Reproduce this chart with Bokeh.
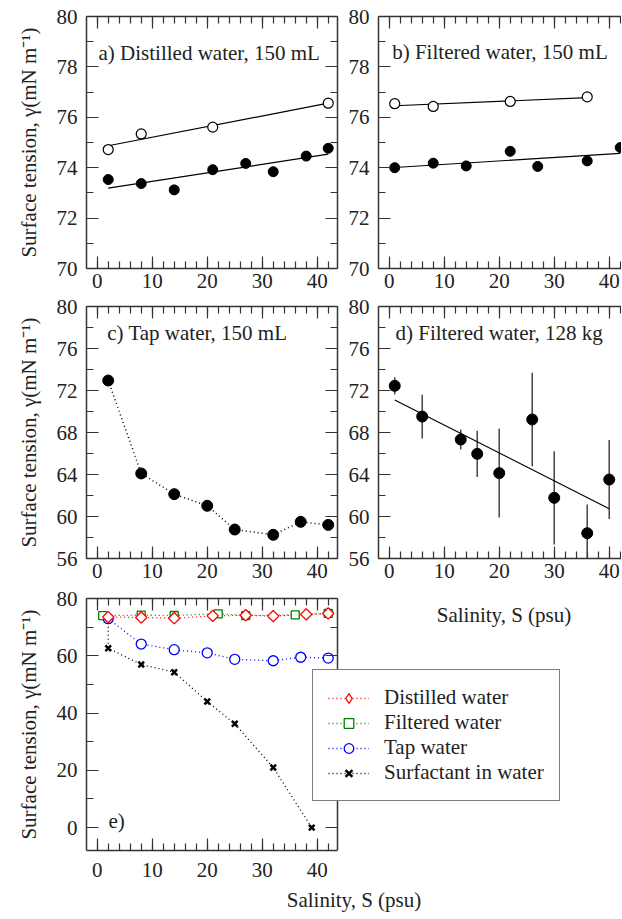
import numpy as np
from bokeh.plotting import figure
from bokeh.models import Range1d, LinearAxis, SingleIntervalTicker, Label, Legend, LegendItem
from bokeh.layouts import column, row
from bokeh.embed import file_html
from bokeh.resources import INLINE

# ---------------- data ----------------
a_fill_x = [2, 8, 14, 21, 27, 32, 38, 42]
a_fill_y = [73.53, 73.37, 73.12, 73.92, 74.17, 73.84, 74.46, 74.77]
a_open_x = [2, 8, 21, 42]
a_open_y = [74.72, 75.34, 75.61, 76.56]

b_fill_x = [1, 8, 14, 22, 27, 36, 42]
b_fill_y = [74.00, 74.18, 74.07, 74.65, 74.05, 74.27, 74.80]
b_open_x = [1, 8, 22, 36]
b_open_y = [76.54, 76.43, 76.63, 76.81]

c_x = [2, 8, 14, 20, 25, 32, 37, 42]
c_y = [72.95, 64.10, 62.13, 61.02, 58.76, 58.26, 59.49, 59.20]

d_x = [1, 6, 13, 16, 20, 26, 30, 36, 40]
d_y = [72.45, 69.52, 67.33, 65.97, 64.13, 69.24, 61.78, 58.41, 63.52]
d_err = [0.82, 2.08, 0.96, 2.20, 4.22, 4.45, 4.44, 2.73, 3.76]

surf_x = [2, 2, 8, 14, 20, 25, 32, 39]
surf_y = [72.95, 62.65, 56.95, 54.27, 44.03, 36.24, 20.98, 0.0]

series_names = ["Distilled water", "Filtered water", "Tap water", "Surfactant in water"]
ylabel_text = "Surface tension, γ(mN m⁻¹)"
xlabel_text = "Salinity, S (psu)"

FONT = "'Liberation Serif', 'Times New Roman', serif"
FS = "21px"
AX = "#333333"
TXT = "#222222"
XSCALE = 5.5  # px per psu
X0 = -1.95
XEND_AC = X0 + 251 / XSCALE


def style_axis(ax, labels=True, xdir=True):
    ax.axis_line_color = AX
    ax.axis_line_width = 1.5
    ax.major_tick_in = 12
    ax.major_tick_out = 0
    ax.minor_tick_in = 7
    ax.minor_tick_out = 0
    ax.major_tick_line_color = AX
    ax.minor_tick_line_color = AX
    ax.major_tick_line_width = 1.2
    ax.minor_tick_line_width = 1.2
    ax.major_label_text_font = FONT
    ax.major_label_text_font_size = FS
    ax.major_label_text_color = TXT
    ax.major_label_standoff = 5 if xdir else 9
    ax.axis_label_text_font = FONT
    ax.axis_label_text_font_size = FS
    ax.axis_label_text_font_style = "normal"
    ax.axis_label_text_color = TXT
    if not labels:
        ax.major_label_text_color = None
        ax.major_label_standoff = 0


def make_fig(yr, yint, fw, mbl, mbr, mbt, mbb, right_axis=True, ylabel=None, xlabel=None,
             bounded=False, xstandoff=5):
    p = figure(frame_width=fw, frame_height=252,
               x_range=Range1d(X0, X0 + fw / XSCALE), y_range=Range1d(*yr),
               output_backend="svg", toolbar_location=None,
               min_border_left=mbl, min_border_right=mbr,
               min_border_top=mbt, min_border_bottom=mbb)
    p.outline_line_color = None
    p.xgrid.visible = False
    p.ygrid.visible = False
    bottom = p.below[0]
    left = p.left[0]
    bottom.ticker = SingleIntervalTicker(interval=10, num_minor_ticks=5)
    left.ticker = SingleIntervalTicker(interval=yint, num_minor_ticks=2)
    style_axis(bottom, True, True)
    style_axis(left, True, False)
    bottom.major_label_standoff = xstandoff
    if ylabel:
        left.axis_label = ylabel
        left.axis_label_standoff = 13
    if xlabel:
        bottom.axis_label = xlabel
        bottom.axis_label_standoff = 8
    top = LinearAxis(ticker=SingleIntervalTicker(interval=10, num_minor_ticks=5))
    style_axis(top, False)
    if bounded:
        bottom.bounds = (X0, XEND_AC)
        top.bounds = (X0, XEND_AC)
    p.add_layout(top, "above")
    if right_axis:
        rt = LinearAxis(ticker=SingleIntervalTicker(interval=yint, num_minor_ticks=2))
        style_axis(rt, False)
        if bounded:
            rt.fixed_location = XEND_AC
        p.add_layout(rt, "right")
    return p


def panel_label(p, text, dx, dy, align="left"):
    # dx, dy: offsets (px) of the text's left edge / vertical centre from the frame's top-left
    xr, yr = p.x_range, p.y_range
    x = xr.start + dx * (xr.end - xr.start) / p.frame_width
    y = yr.end - dy * (yr.end - yr.start) / p.frame_height
    p.add_layout(Label(x=x, y=y, text=text, text_font=FONT, text_font_size=FS,
                       text_color=TXT, text_baseline="middle", text_align=align))


def fit_line(p, xs, ys):
    k, b = np.polyfit(xs, ys, 1)
    xx = np.array([min(xs), max(xs)])
    p.line(xx, k * xx + b, line_color="black", line_width=1.2)


# ---------------- panel a ----------------
pa = make_fig((70, 80), 2, 251, 86, 3, 16, 26, right_axis=True, ylabel=ylabel_text)
fit_line(pa, a_open_x, a_open_y)
fit_line(pa, a_fill_x, a_fill_y)
pa.scatter(a_open_x, a_open_y, size=10, marker="circle", fill_color="white", line_color="black", line_width=1.2)
pa.scatter(a_fill_x, a_fill_y, size=10, marker="circle", fill_color="black", line_color="black")
panel_label(pa, "a) Distilled water, 150 mL", 12, 36)

# ---------------- panel b ----------------
pb = make_fig((70, 80), 2, 243, 38, 0, 16, 26, right_axis=False)
fit_line(pb, b_open_x, b_open_y)
fit_line(pb, b_fill_x, b_fill_y)
pb.scatter(b_open_x, b_open_y, size=10, marker="circle", fill_color="white", line_color="black", line_width=1.2)
pb.scatter(b_fill_x, b_fill_y, size=10, marker="circle", fill_color="black", line_color="black")
panel_label(pb, "b) Filtered water, 150 mL", 13.7, 35)

# ---------------- panel c ----------------
pc = make_fig((56, 80), 4, 251, 86, 3, 12, 28, right_axis=True, ylabel=ylabel_text)
pc.line(c_x, c_y, line_color="black", line_width=1.5, line_dash="1 3")
pc.scatter(c_x, c_y, size=11, marker="circle", fill_color="black", line_color="black")
panel_label(pc, "c) Tap water, 150 mL", 20.7, 26.5)

# ---------------- panel d ----------------
pd_ = make_fig((56, 80), 4, 243, 38, 0, 12, 28, right_axis=False)
d_lo = [y - e for y, e in zip(d_y, d_err)]
d_hi = [y + e for y, e in zip(d_y, d_err)]
pd_.segment(d_x, d_lo, d_x, d_hi, line_color="#444444", line_width=1.5)
fit_line(pd_, d_x, d_y)
pd_.scatter(d_x, d_y, size=11, marker="circle", fill_color="black", line_color="black")
panel_label(pd_, "d) Filtered water, 128 kg", 17, 26.5)

# ---------------- panel e ----------------
pe = make_fig((-8, 80), 20, 535, 86, 0, 12, 68, right_axis=True, ylabel=ylabel_text,
              xlabel=xlabel_text, bounded=True, xstandoff=12)
l1 = pe.line(a_fill_x, a_fill_y, line_color="red", line_width=1.3, line_dash="1 3")
l2 = pe.line(b_fill_x, b_fill_y, line_color="green", line_width=1.3, line_dash="1 3")
l3 = pe.line(c_x, c_y, line_color="blue", line_width=1.3, line_dash="1 3")
l4 = pe.line(surf_x, surf_y, line_color="black", line_width=1.3, line_dash="1 3")
s4 = pe.scatter(surf_x[1:], surf_y[1:], size=8, marker="x", line_color="black", line_width=2.5)
s3 = pe.scatter(c_x, c_y, size=10, marker="circle", fill_color="white", line_color="blue", line_width=1.3)
s2 = pe.scatter(b_fill_x, b_fill_y, size=8, marker="square", fill_color="white", line_color="green", line_width=1.3)
s1 = pe.scatter(a_fill_x, a_fill_y, size=8, marker="square", angle=np.pi / 4, fill_color="white",
                line_color="red", line_width=1.3)
# legend-only diamond (legend glyphs ignore marker rotation); NaN point draws nothing in the plot
s1_leg = pe.scatter(x=[np.nan], y=[np.nan], size=10, marker="diamond", fill_color="white",
                    line_color="red", line_width=1.3)
panel_label(pe, "e)", 22, 222)
# x-axis title of panel d (drawn in the free area to the right of panel e)
panel_label(pe, xlabel_text, 417.5, 16, align="center")

legend = Legend(items=[
    LegendItem(label=series_names[0], renderers=[l1, s1_leg]),
    LegendItem(label=series_names[1], renderers=[l2, s2]),
    LegendItem(label=series_names[2], renderers=[l3, s3]),
    LegendItem(label=series_names[3], renderers=[l4, s4]),
], location=(226, 49))
legend.border_line_color = "black"
legend.border_line_width = 1
legend.background_fill_color = "white"
legend.background_fill_alpha = 1.0
legend.padding = 15
legend.spacing = 0
legend.margin = 0
legend.label_height = 25
legend.glyph_height = 24
legend.glyph_width = 41
legend.label_standoff = 15
legend.label_text_font = FONT
legend.label_text_font_size = FS
legend.label_text_color = TXT
legend.label_text_baseline = "middle"
pe.add_layout(legend)

layout = column(row(pa, pb), row(pc, pd_), pe)

open("out.html", "w").write(file_html(layout, INLINE))
